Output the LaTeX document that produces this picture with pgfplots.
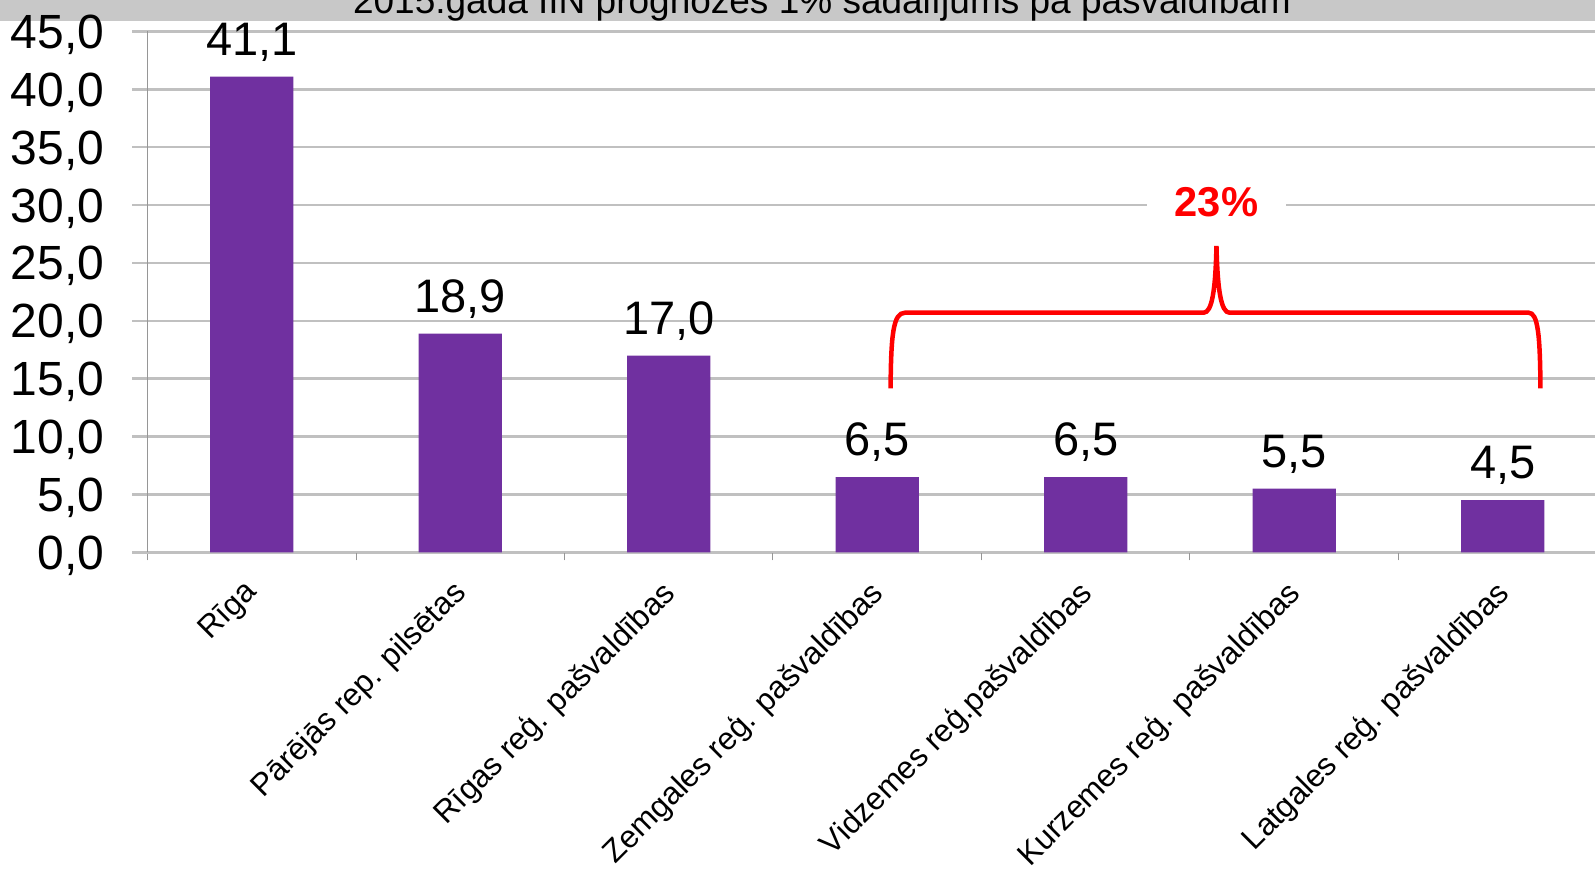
\documentclass[border=0pt]{standalone}
\usepackage{fontspec}
\setmainfont{Liberation Sans}
\usepackage{pgfplots}
\pgfplotsset{compat=1.18}
\definecolor{barpurple}{RGB}{112,48,160}
\definecolor{gridgray}{RGB}{192,192,192}
\definecolor{bandgray}{RGB}{200,200,200}
\definecolor{axisgray}{RGB}{150,150,150}

\begin{document}
\begin{tikzpicture}
\clip (0pt,0pt) rectangle (1595pt,870pt);
\fill[bandgray] (0pt,849.3pt) rectangle (1595pt,870pt);
\node[anchor=base, inner sep=0pt, font=\fontsize{37}{40}\selectfont]
  at (822pt,856.7pt) {2015.gada IIN prognozes 1\% sadalījums pa pašvaldībām};
\begin{axis}[
  at={(147.5pt,317.7pt)}, anchor=south west,
  scale only axis, width=1459.5pt, height=520.8pt,
  xmin=-0.5, xmax=6.5, ymin=0, ymax=45,
  axis lines*=left, clip=false,
  x axis line style={draw=gridgray, line width=2pt},
  y axis line style={draw=axisgray, line width=1pt},
  ytick={0,5,...,45}, xtick={0,...,6},
  minor xtick={-0.5,0.5,...,6.5},
  tick align=outside,
  ymajorgrids, major grid style={draw=gridgray, line width=2.5pt},
  y tick style={draw=gridgray, line width=2.5pt},
  major tick length=15.5pt,
  x tick style={draw=none},
  minor x tick style={draw=axisgray, line width=1pt},
  minor tick length=8pt,
  /pgf/number format/.cd, use comma, fixed, fixed zerofill, precision=1, assume math mode=true,
  /pgfplots/.cd,
  yticklabel style={font=\fontsize{48}{50}\selectfont, anchor=base east, inner sep=0pt, xshift=-27.5pt, yshift=-17pt},
  xticklabels={Rīga, Pārējās rep. pilsētas, Rīgas reģ. pašvaldības, Zemgales reģ. pašvaldības, Vidzemes reģ.pašvaldības, Kurzemes reģ. pašvaldības, Latgales reģ. pašvaldības},
  xticklabel style={font=\fontsize{31.5}{34}\selectfont, rotate=45, anchor=north east, inner sep=0pt, yshift=-0.7pt, xshift=-13.6pt},
  ybar, bar width=83.4pt,
  nodes near coords,
  every node near coord/.append style={font=\fontsize{47}{50}\selectfont, anchor=base, inner sep=0pt, yshift=21.5pt, black},
]
\addplot[fill=barpurple, draw=none] coordinates {
  (0,41.1) (1,18.9) (2,17.0) (3,6.5) (4,6.5) (5,5.5) (6,4.5)};
\draw[red, line width=4.5pt]
  (axis cs:3.064,14.17) .. controls (axis cs:3.066,18.78) and (axis cs:3.076,20.70) .. (axis cs:3.133,20.70)
  -- (axis cs:4.565,20.70)
  .. controls (axis cs:4.606,20.70) and (axis cs:4.622,22.66) .. (axis cs:4.627,26.47)
  .. controls (axis cs:4.632,22.66) and (axis cs:4.649,20.70) .. (axis cs:4.690,20.70)
  -- (axis cs:6.124,20.70)
  .. controls (axis cs:6.169,20.70) and (axis cs:6.179,18.78) .. (axis cs:6.181,14.17);
\node[fill=white, inner xsep=28pt, inner ysep=4pt, text=red, font=\bfseries\fontsize{41.7}{44}\selectfont]
  at (axis cs:4.627,30.23) {23\%};
\end{axis}
\end{tikzpicture}
\end{document}
